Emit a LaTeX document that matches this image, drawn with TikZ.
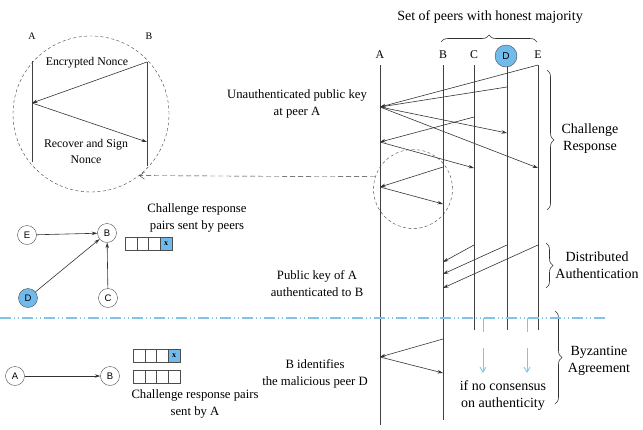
\documentclass[tikz,border=0pt]{standalone}
\usepackage{fontspec}
\setmainfont{Liberation Serif}
\newfontfamily\peerfont{Liberation Sans}
\usetikzlibrary{arrows.meta,decorations.pathreplacing,positioning}

\definecolor{peerblue}{RGB}{112,186,236}
\definecolor{phaseblue}{RGB}{128,196,232}

\tikzset{
  life/.style={draw=black!75, line width=0.7pt},
  msg/.style={draw=black!80, line width=0.6pt, -{Stealth[length=5.5pt,width=3.5pt]}},
  peer/.style={circle, draw=black!70, minimum size=19pt, inner sep=0pt, font=\peerfont\fontsize{9.5}{9.5}\selectfont},
  cell/.style={draw=black!70, minimum width=11.75pt, minimum height=13pt, inner sep=0pt},
  hit/.style={cell, fill=peerblue, font=\bfseries\fontsize{8}{8}\selectfont},
  lbl/.style={align=center, font=\fontsize{12.7}{17}\selectfont},
  biglbl/.style={align=center, font=\fontsize{14}{17}\selectfont},
  smalllbl/.style={align=center, font=\fontsize{11.8}{16}\selectfont},
  brc/.style={decorate, decoration={brace, amplitude=7pt}, draw=black!80, line width=0.6pt},
  phase/.style={draw=phaseblue, line width=1.2pt, dash pattern=on 11pt off 3pt on 1pt off 3pt on 1pt off 3pt},
  drop/.style={draw=phaseblue, line width=0.9pt, dash pattern=on 14pt off 16pt on 40pt, -{Straight Barb[length=5pt,width=6pt]}},
}

\begin{document}
\begin{tikzpicture}[x=1pt,y=-1pt]
    \useasboundingbox (0,0) rectangle (643,429);

    % lifelines of the peers
    \foreach \n/\x/\e in {A/380/425, B/443/420, C/474/330, D/507/330, E/538/330} {
      \coordinate (top\n) at (\x,65);
      \coordinate (bot\n) at (\x,\e);
      \draw[life] (top\n) -- (bot\n);
    }
    \node[smalllbl] (hA) at (380,55) {A};
    \node[smalllbl] (hB) at (443,55) {B};
    \node[smalllbl] (hC) at (474,55) {C};
    \node[peer, fill=peerblue, minimum size=22pt, font=\peerfont\fontsize{10}{10}\selectfont] (hD) at (506,56) {D};
    \node[smalllbl] (hE) at (538,55) {E};

    \draw[brc] (441,42) -- (537,42);
    \node[biglbl] (honest) at (490,17) {Set of peers with honest majority};

    % challenge response
    \coordinate (A1) at (380,107);
    \coordinate (D1) at (507,87);
    \coordinate (D2) at (507,133);
    \coordinate (E2) at (538,168);
    \coordinate (C1) at (474,117);
    \coordinate (A2) at (380,142);
    \coordinate (C2) at (474,168);
    \coordinate (B1) at (443,167);
    \coordinate (A3) at (380,187);
    \coordinate (B2) at (443,204);
    \draw[msg] (topE) -- (A1);
    \draw[msg] (D1) -- (A1);
    \draw[msg] (A1) -- (D2);
    \draw[msg] (A1) -- (E2);
    \draw[msg] (C1) -- (A2);
    \draw[msg] (A2) -- (C2);
    \draw[msg] (B1) -- (A3);
    \draw[msg] (A3) -- (B2);

    % distributed authentication
    \coordinate (C3) at (474,245);
    \coordinate (D3) at (507,245);
    \coordinate (E3) at (538,245);
    \coordinate (B3) at (443,262);
    \coordinate (B4) at (443,274);
    \coordinate (B5) at (443,288);
    \draw[msg] (C3) -- (B3);
    \draw[msg] (D3) -- (B4);
    \draw[msg] (E3) -- (B5);

    % byzantine agreement
    \coordinate (B6) at (443,339);
    \coordinate (A4) at (380,357);
    \coordinate (B7) at (443,373);
    \draw[msg] (B6) -- (A4);
    \draw[msg] (A4) -- (B7);

    \node[lbl] (unauth) at (297,104) {Unauthenticated public key\\at peer A};
    \node[lbl] (authd) at (317,284) {Public key of A\\authenticated to B};
    \node[lbl] (ident) at (315,374) {B identifies\\the malicious peer D};

    % phases
    \draw[brc] (547,70) -- (547,210);
    \node[biglbl] (chal) at (590,139) {Challenge\\Response};
    \draw[brc] (546,243) -- (546,288);
    \node[biglbl] (dist) at (597,265) {Distributed\\Authentication};
    \draw[brc] (555,311) -- (555,404);
    \node[biglbl] (byz) at (599,361) {Byzantine\\Agreement};
    \node[biglbl] (nocons) at (503,396) {if no consensus\\on authenticity};

    \draw[phase] (0,318) -- (605,318);
    \coordinate (V1) at (483,318);
    \coordinate (V2) at (527,318);
    \coordinate (W1) at (483,373);
    \coordinate (W2) at (527,373);
    \draw[drop] (V1) -- (W1);
    \draw[drop] (V2) -- (W2);

    % zoomed challenge
    \node[circle, draw=black!75, dash pattern=on 3pt off 2.5pt, minimum size=79pt] (zoomR) at (413,189) {};
    \node[circle, draw=black!75, dash pattern=on 3pt off 2.5pt, minimum size=156pt] (zoomL) at (91,114) {};
    \draw[draw=black!80, dash pattern=on 5pt off 3pt, -{Straight Barb[length=5pt,width=7pt]}] (zoomR.162) -- (zoomL.-52);

    \node[smalllbl, font=\fontsize{10}{10}\selectfont] (zA) at (32,36) {A};
    \node[smalllbl, font=\fontsize{10}{10}\selectfont] (zB) at (149,36) {B};
    \coordinate (zA1) at (32,61);
    \coordinate (zA2) at (32,103);
    \coordinate (zA3) at (32,162);
    \coordinate (zB1) at (147,62);
    \coordinate (zB2) at (147,142);
    \coordinate (zB3) at (147,166);
    \draw[life] (zA1) -- (zA3);
    \draw[life] (zB1) -- (zB3);
    \draw[msg] (zB1) -- (zA2);
    \draw[msg] (zA2) -- (zB2);
    \node[smalllbl] (enc) at (87,63) {Encrypted Nonce};
    \node[smalllbl] (sign) at (86,151) {Recover and Sign\\Nonce};

    % challenge response pairs sent by peers
    \node[peer] (gE) at (27,235) {E};
    \node[peer] (gB) at (107,233) {B};
    \node[peer, fill=peerblue] (gD) at (28,298) {D};
    \node[peer] (gC) at (108,298) {C};
    \draw[msg] (gE) -- (gB);
    \draw[msg] (gD) -- (gB);
    \draw[msg] (gC) -- (gB);
    \foreach \i in {0,1,2}
      \node[cell] (pc\i) at (130.9+11.75*\i,243.5) {};
    \node[hit] (pc3) at (166.1,243.5) {x};
    \node[lbl] (peerpairs) at (197,218) {Challenge response\\pairs sent by peers};

    % challenge response pairs sent by A
    \node[peer] (bA) at (15,376) {A};
    \node[peer] (bB) at (110,376) {B};
    \draw[msg] (bA) -- (bB);
    \foreach \i in {0,1,2}
      \node[cell] (qc\i) at (138.9+11.75*\i,356) {};
    \node[hit] (qc3) at (174.1,356) {x};
    \foreach \i in {0,...,3}
      \node[cell] (rc\i) at (138.9+11.75*\i,376.5) {};
    \node[lbl] (apairs) at (195,404) {Challenge response pairs\\sent by A};
\end{tikzpicture}
\end{document}
